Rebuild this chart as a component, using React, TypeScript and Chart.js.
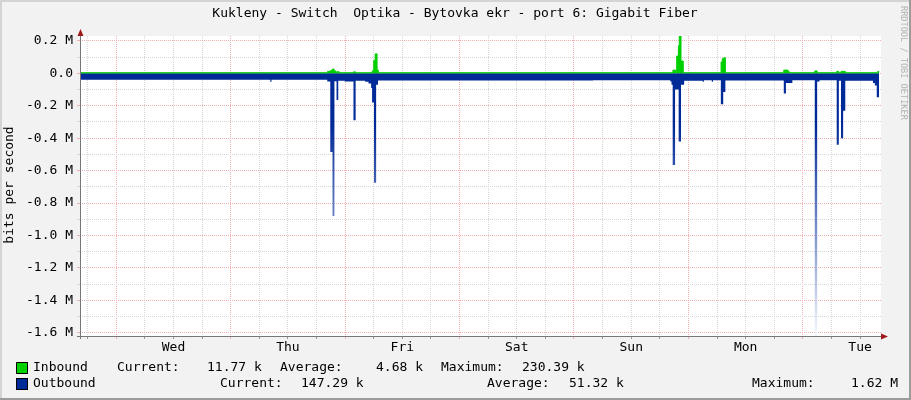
import React, { useEffect, useRef } from 'react';
import { Chart, registerables } from 'chart.js';

Chart.register(...registerables);

// ---------- data (hours relative to Wed 00:00, values in M bits/s) ----------
const chartTitle = 'Kukleny - Switch  Optika - Bytovka ekr - port 6: Gigabit Fiber';
const yAxisTitle = 'bits per second';
const watermark = 'RRDTOOL / TOBI OETIKER';

const xMinHour = -7.61;
const xMaxHour = 160.39;
const xTickHours = [-6, 0, 6, 12, 18, 24, 30, 36, 42, 48, 54, 60, 66, 72, 78, 84, 90, 96, 102, 108, 114, 120, 126, 132, 138, 144, 150, 156];
const dayNoonHours = [12, 36, 60, 84, 108, 132, 156];
const dayLabels = ['Wed', 'Thu', 'Fri', 'Sat', 'Sun', 'Mon', 'Tue'];

const yMin = -1.62;
const yMax = 0.2304;
const yTickValues = [-1.6, -1.5, -1.4, -1.3, -1.2, -1.1, -1.0, -0.9, -0.8, -0.7, -0.6, -0.5, -0.4, -0.3, -0.2, -0.1, 0.0, 0.1, 0.2];
const yTickLabels = ['-1.6 M', '', '-1.4 M', '', '-1.2 M', '', '-1.0 M', '', '-0.8 M', '', '-0.6 M', '', '-0.4 M', '', '-0.2 M', '', '0.0', '', '0.2 M'];

const inTimes = [-7.61, 44.3, 44.9, 45.3, 45.7, 46.1, 46.3, 46.75, 49.7, 50.2, 53.7, 54.0, 54.3, 54.7, 54.95, 116.75, 117.3, 117.54, 117.9, 118.08, 118.44, 118.92, 126.85, 127.1, 127.4, 127.75, 140.0, 140.9, 141.15, 146.5, 147.0, 151.1, 151.55, 152.0, 152.9, 159.7, 160.0];
const inValues = [0.004, 0.012, 0.018, 0.026, 0.014, 0.004, 0.010, 0.004, 0.009, 0.004, 0.016, 0.08, 0.12, 0.02, 0.004, 0.02, 0.004, 0.107, 0.17, 0.2304, 0.076, 0.004, 0.07, 0.09, 0.096, 0.004, 0.02, 0.01, 0.004, 0.015, 0.004, 0.012, 0.004, 0.012, 0.004, 0.012, 0.0118];

const outTimes = [-7.61, 32.3, 32.55, 44.25, 44.88, 45.35, 45.75, 46.2, 46.55, 47.9, 49.75, 50.2, 52.2, 52.9, 53.45, 53.65, 54.05, 54.5, 54.9, 100.0, 116.2, 116.45, 116.7, 117.2, 117.95, 118.45, 119.1, 123.0, 123.25, 124.9, 125.15, 126.8, 127.3, 127.75, 140.0, 140.45, 141.8, 146.5, 147.0, 147.5, 151.1, 151.55, 152.0, 152.45, 152.9, 158.7, 159.1, 159.5, 160.0];
const outValues = [-0.040, -0.052, -0.040, -0.050, -0.485, -0.88, -0.048, -0.165, -0.046, -0.050, -0.29, -0.046, -0.052, -0.062, -0.09, -0.18, -0.675, -0.07, -0.044, -0.042, -0.050, -0.07, -0.565, -0.10, -0.42, -0.07, -0.045, -0.052, -0.042, -0.052, -0.042, -0.19, -0.115, -0.044, -0.124, -0.06, -0.043, -1.62, -0.05, -0.042, -0.44, -0.046, -0.40, -0.23, -0.045, -0.06, -0.075, -0.147, -0.147];

const legendRows = [
  { name: 'Inbound', color: '#00cf00', items: [['Inbound', 33], ['Current:', 117], ['11.77 k', 207], ['Average:', 280], ['4.68 k', 376], ['Maximum:', 441], ['230.39 k', 522]] },
  { name: 'Outbound', color: '#002a97', items: [['Outbound', 33], ['Current:', 220], ['147.29 k', 301], ['Average:', 487], ['51.32 k', 569], ['Maximum:', 752], ['1.62 M', 851]] },
];

const FONT = '"DejaVu Sans Mono", monospace';
const GREEN = '#00cf00';
const BLUE = '#002a97';
const RED_GRID = '#f0b0b0';
const GREY_GRID = '#d6d6d6';

const decorPlugin = {
  id: 'decor',
  beforeDraw(chart: any) {
    const { ctx, chartArea: a, width, height } = chart;
    ctx.save();
    ctx.fillStyle = '#f2f2f2';
    ctx.fillRect(0, 0, width, height);
    ctx.fillStyle = '#ffffff';
    ctx.fillRect(a.left, a.top, a.right - a.left, a.bottom - a.top);
    ctx.fillStyle = '#d4d4d4';
    ctx.fillRect(0, 0, width, 2);
    ctx.fillRect(0, 0, 2, height);
    ctx.fillStyle = '#9c9c9c';
    ctx.fillRect(0, height - 2, width, 2);
    ctx.fillRect(width - 2, 0, 2, height);
    ctx.restore();
  },
  afterDraw(chart: any) {
    const { ctx, chartArea: a } = chart;
    ctx.save();
    // axes
    ctx.fillStyle = '#777777';
    ctx.fillRect(Math.round(a.left), a.top - 2, 1, a.bottom - a.top + 5);
    ctx.fillRect(a.left - 3, Math.round(a.bottom), a.right - a.left + 3, 1);
    ctx.fillStyle = '#a01818';
    ctx.beginPath();
    ctx.moveTo(a.left - 2.5, a.top);
    ctx.lineTo(a.left + 3.5, a.top);
    ctx.lineTo(a.left + 0.5, a.top - 7);
    ctx.closePath();
    ctx.fill();
    ctx.beginPath();
    ctx.moveTo(a.right, a.bottom - 2.5);
    ctx.lineTo(a.right, a.bottom + 3.5);
    ctx.lineTo(a.right + 7, a.bottom + 0.5);
    ctx.closePath();
    ctx.fill();

    // title
    ctx.fillStyle = '#000';
    ctx.font = '13px ' + FONT;
    ctx.textBaseline = 'middle';
    ctx.textAlign = 'center';
    ctx.fillText(chartTitle, 455, 14);

    // y title
    ctx.save();
    ctx.translate(10, 185);
    ctx.rotate(-Math.PI / 2);
    ctx.fillText(yAxisTitle, 0, 0);
    ctx.restore();

    // watermark
    ctx.save();
    ctx.translate(903, 6);
    ctx.rotate(Math.PI / 2);
    ctx.textAlign = 'left';
    ctx.fillStyle = '#b4b4b4';
    ctx.font = '8.6px ' + FONT;
    ctx.fillText(watermark, 0, 0);
    ctx.restore();

    // legend
    ctx.textAlign = 'left';
    ctx.font = '13px ' + FONT;
    legendRows.forEach((row, r) => {
      const cy = 368 + r * 16;
      ctx.fillStyle = row.color;
      ctx.fillRect(17, cy - 5, 10, 10);
      ctx.strokeStyle = '#000';
      ctx.lineWidth = 1;
      ctx.strokeRect(16.5, cy - 5.5, 11, 11);
      ctx.fillStyle = '#000';
      row.items.forEach(([t, x]) => ctx.fillText(t as string, x as number, cy));
    });
    ctx.restore();
  },
};

export default function App() {
  const ref = useRef<HTMLCanvasElement>(null);

  useEffect(() => {
    if (!ref.current) return;
    Chart.defaults.font.family = FONT;
    Chart.defaults.font.size = 13;
    Chart.defaults.color = '#000';

    const inData = inTimes.map((t, i) => ({ x: t, y: inValues[i] }));
    const outData = outTimes.map((t, i) => ({ x: t, y: outValues[i] }));

    const chart = new Chart(ref.current, {
      type: 'line',
      data: {
        datasets: [
          {
            label: 'Inbound',
            data: inData,
            stepped: 'before',
            borderColor: GREEN,
            backgroundColor: GREEN,
            borderWidth: 1,
            pointRadius: 0,
            fill: 'origin',
          },
          {
            label: 'Outbound',
            data: outData,
            stepped: 'before',
            borderColor: BLUE,
            borderWidth: 0,
            pointRadius: 0,
            fill: 'origin',
            backgroundColor: (c: any) => {
              const ch = c.chart;
              if (!ch.chartArea || !ch.scales.y) return BLUE;
              const y0 = ch.scales.y.getPixelForValue(0);
              const y1 = ch.scales.y.getPixelForValue(yMin);
              const g = ch.ctx.createLinearGradient(0, y0, 0, y1);
              g.addColorStop(0, BLUE);
              g.addColorStop(0.2, BLUE);
              g.addColorStop(1, '#f6f8fc');
              return g;
            },
          },
        ] as any,
      },
      options: {
        responsive: false,
        animation: false,
        events: [],
        layout: { padding: { top: 36, right: 30, bottom: 34, left: 0 } },
        plugins: { legend: { display: false }, tooltip: { enabled: false }, title: { display: false } },
        scales: {
          x: {
            type: 'linear',
            min: xMinHour,
            max: xMaxHour,
            afterBuildTicks: (s: any) => { s.ticks = xTickHours.map((v) => ({ value: v })); },
            afterFit: (s: any) => { s.height = 30; },
            ticks: {
              autoSkip: false,
              maxRotation: 0,
              padding: 1,
              color: '#000',
              callback: (v: any) => {
                const i = dayNoonHours.indexOf(Number(v));
                return i >= 0 ? dayLabels[i] : '';
              },
            },
            grid: {
              color: (c: any) => (c.tick && Math.abs(c.tick.value % 24) < 1e-6 ? RED_GRID : GREY_GRID),
              tickColor: (c: any) => (c.tick && Math.abs(c.tick.value % 24) < 1e-6 ? RED_GRID : '#999999'),
              tickLength: 3,
              lineWidth: 1,
            },
            border: { display: false, dash: [1, 1] },
          },
          y: {
            type: 'linear',
            min: yMin,
            max: yMax,
            afterBuildTicks: (s: any) => { s.ticks = yTickValues.map((v) => ({ value: v })); },
            afterFit: (s: any) => { s.width = 80; },
            ticks: {
              autoSkip: false,
              padding: 4,
              color: '#000',
              callback: (_v: any, i: number) => yTickLabels[i],
            },
            grid: {
              color: (c: any) => (c.index % 2 === 0 ? RED_GRID : GREY_GRID),
              tickColor: (c: any) => (c.index % 2 === 0 ? RED_GRID : GREY_GRID),
              tickLength: 3,
              lineWidth: 1,
            },
            border: { display: false, dash: [1, 1] },
          },
        },
      },
      plugins: [decorPlugin],
    } as any);

    return () => chart.destroy();
  }, []);

  return (
    <div style={{ position: 'fixed', left: 0, top: 0, width: 911, height: 400 }}>
      <canvas ref={ref} width={911} height={400} style={{ display: 'block' }} />
    </div>
  );
}
